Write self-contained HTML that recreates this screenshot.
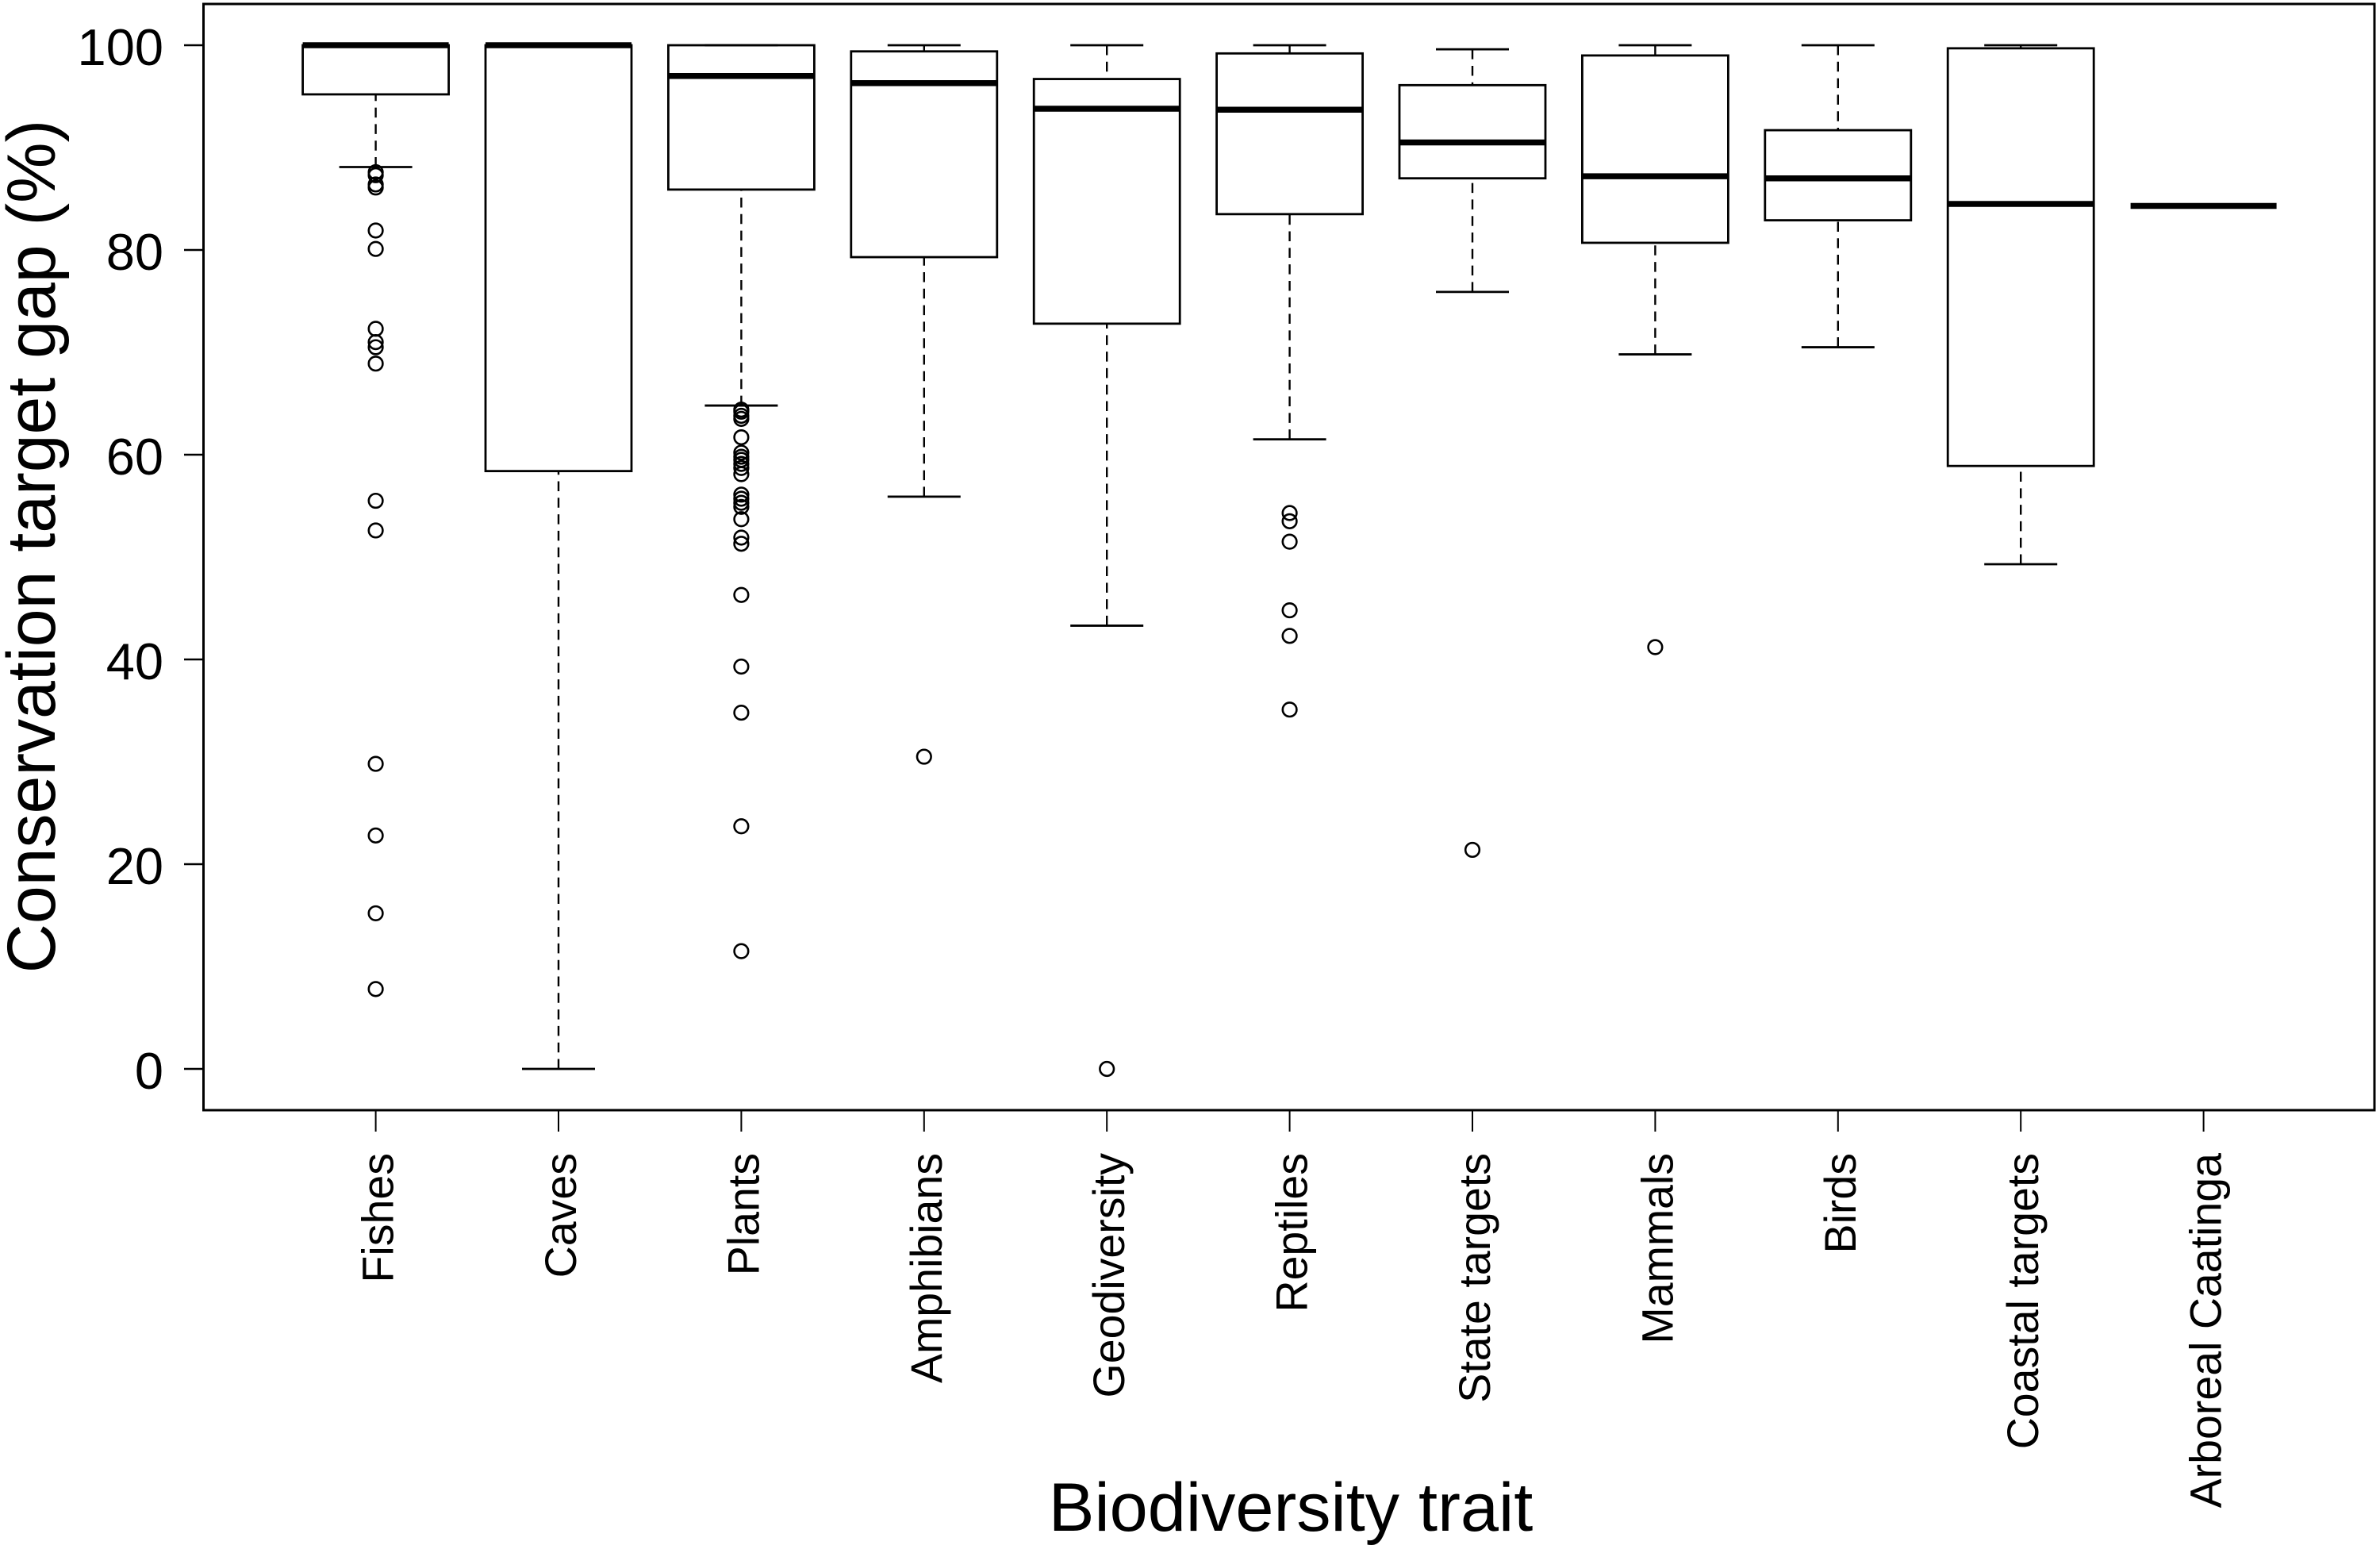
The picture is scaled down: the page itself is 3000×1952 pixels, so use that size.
<!DOCTYPE html>
<html lang="en">
<head>
<meta charset="utf-8">
<title>Conservation target gap by biodiversity trait</title>
<style>
html,body{margin:0;padding:0;background:#fff;}
body{width:3000px;height:1952px;overflow:hidden;}
svg{display:block;font-family:"Liberation Sans",Arial,sans-serif;}
</style>
</head>
<body>
<svg id="chart" xmlns="http://www.w3.org/2000/svg" width="3000" height="1952" viewBox="0 0 3000 1952">
<rect x="0" y="0" width="3000" height="1952" fill="#fff"/>
</svg>
<script>
const categories = ["Fishes","Caves","Plants","Amphibians","Geodiversity","Reptiles","State targets","Mammals","Birds","Coastal targets","Arboreal Caatinga"];
const whiskerHigh = [100,100,100,100,100,100,99.6,100,100,100,84.3];
const q3Values = [100,100,100,99.4,96.7,99.2,96.1,99.0,91.7,99.7,84.3];
const medianValues = [100,100,97.0,96.3,93.8,93.7,90.5,87.2,87.0,84.5,84.3];
const q1Values = [95.2,58.4,85.9,79.3,72.8,83.5,87.0,80.7,82.9,58.9,84.3];
const whiskerLow = [88.1,0,64.8,55.9,43.3,61.5,75.9,69.8,70.5,49.3,84.3];
const fishesOutliers = [87.6,87.3,86.4,86.1,81.9,80.1,72.3,71.0,70.5,68.9,55.5,52.6,29.8,22.8,15.2,7.8];
const cavesOutliers = [];
const plantsOutliers = [64.4,64.2,63.8,63.5,61.7,60.2,59.8,59.5,59.1,58.7,58.1,56.1,55.7,55.3,54.9,53.7,51.9,51.3,46.3,39.3,34.8,23.7,11.5];
const amphibiansOutliers = [30.5];
const geodiversityOutliers = [0];
const reptilesOutliers = [54.3,53.5,51.5,44.8,42.3,35.1];
const stateOutliers = [21.4];
const mammalsOutliers = [41.2];
const birdsOutliers = [];
const coastalOutliers = [];
const arborealOutliers = [];
const outlierSets = [fishesOutliers,cavesOutliers,plantsOutliers,amphibiansOutliers,geodiversityOutliers,reptilesOutliers,stateOutliers,mammalsOutliers,birdsOutliers,coastalOutliers,arborealOutliers];
const yTicks = [0,20,40,60,80,100];
const yAxisTitle = "Conservation target gap (%)";
const xAxisTitle = "Biodiversity trait";

const svg = document.getElementById('chart');
const NS = 'http://www.w3.org/2000/svg';
const xAxis = i => 473.6 + 230.4 * i;
const yAxis = v => 1347 - 12.9 * v;
const BOX_HALF = 92, CAP_HALF = 46;
function slug(s){ return s.toLowerCase().replace(/[^a-z]+/g,'-'); }
function make(parent, tag, attrs){
  const el = document.createElementNS(NS, tag);
  for (const k in attrs) el.setAttribute(k, attrs[k]);
  parent.appendChild(el);
  return el;
}

const frame = make(svg,'rect',{x:256.5,y:5,width:2736.5,height:1394,fill:'none',stroke:'#000','stroke-width':3});



const yAxisGroup = make(svg,'g',{});


yTicks.forEach(t => {
  const tick = make(yAxisGroup,'line',{x1:232,x2:256.5,y1:yAxis(t),y2:yAxis(t),stroke:'#000','stroke-width':2.5});
  
  
  const label = make(yAxisGroup,'text',{x:206,y:yAxis(t)+25,'text-anchor':'end','font-size':65,fill:'#000'});
  label.textContent = t;
  
  
});

const yTitle = make(svg,'text',{transform:'translate(69,688.5) rotate(-90)','text-anchor':'middle','font-size':86,fill:'#000'});
yTitle.textContent = yAxisTitle;



const xTitle = make(svg,'text',{x:1627,y:1929,'text-anchor':'middle','font-size':86.5,fill:'#000'});
xTitle.textContent = xAxisTitle;



categories.forEach((name,i) => {
  const cx = xAxis(i);
  const tick = make(svg,'line',{x1:cx,x2:cx,y1:1399,y2:1426,stroke:'#000','stroke-width':2});
  
  
  const label = make(svg,'text',{transform:'translate('+(cx+22)+',1453) rotate(-90)','text-anchor':'end','font-size':55.5,fill:'#000'});
  label.textContent = name;
  
  

  const g = make(svg,'g',{fill:'none',stroke:'#000'});
  
  

  const upper = make(g,'line',{x1:cx,x2:cx,y1:yAxis(whiskerHigh[i]),y2:yAxis(q3Values[i]),'stroke-width':2.4,'stroke-dasharray':'12.5 8.3'});
  
  
  const lower = make(g,'line',{x1:cx,x2:cx,y1:yAxis(whiskerLow[i]),y2:yAxis(q1Values[i]),'stroke-width':2.4,'stroke-dasharray':'12.5 8.3'});
  
  
  const capHigh = make(g,'line',{x1:cx-CAP_HALF,x2:cx+CAP_HALF,y1:yAxis(whiskerHigh[i]),y2:yAxis(whiskerHigh[i]),'stroke-width':2.8});
  
  
  const capLow = make(g,'line',{x1:cx-CAP_HALF,x2:cx+CAP_HALF,y1:yAxis(whiskerLow[i]),y2:yAxis(whiskerLow[i]),'stroke-width':2.8});
  
  
  const box = make(g,'rect',{x:cx-BOX_HALF,y:yAxis(q3Values[i]),width:BOX_HALF*2,height:yAxis(q1Values[i])-yAxis(q3Values[i]),'stroke-width':2.8});
  
  
  const median = make(g,'line',{x1:cx-BOX_HALF,x2:cx+BOX_HALF,y1:yAxis(medianValues[i]),y2:yAxis(medianValues[i]),'stroke-width':7.5});
  
  
  outlierSets[i].forEach(v => {
    const pt = make(g,'circle',{cx:cx,cy:yAxis(v),r:8.8,'stroke-width':2.6});
    
    
  });
});
</script>
</body>
</html>
